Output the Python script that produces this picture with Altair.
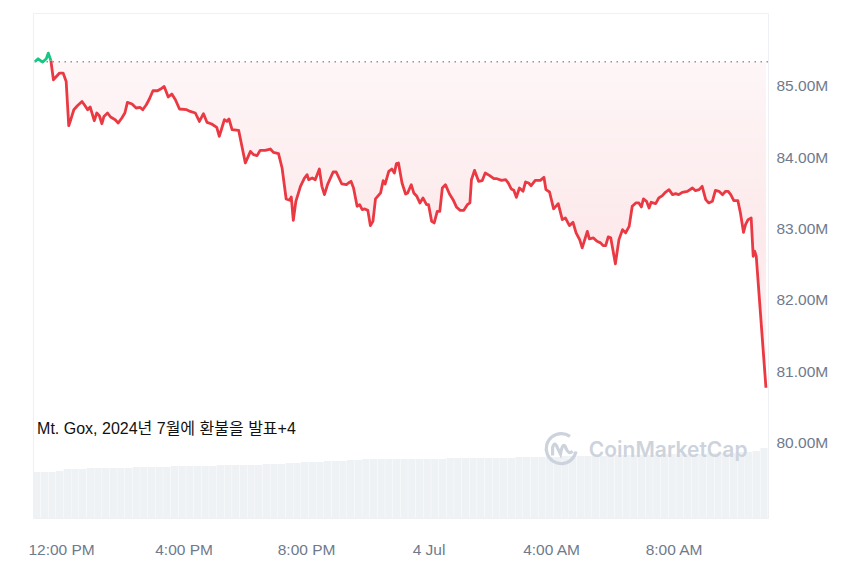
import altair as alt
import pandas as pd

# ---- price series (minutes after 3 Jul 11:05, price in millions USD) ----
minutes = [4, 10, 19, 26, 30, 35, 40, 45, 52, 59, 65, 70, 74, 80, 87, 96, 102, 107, 112, 120,
           125, 130, 135, 139, 146, 152, 161, 167, 174, 180, 185, 194, 202, 210, 215, 222, 228, 235, 244, 250,
           257, 265, 272, 279, 287, 301, 308, 318, 326, 334, 341, 350, 360, 365, 370, 375, 380, 384, 390, 403,
           416, 426, 432, 439, 445, 455, 465, 471, 481, 488, 496, 503, 506, 510, 515, 524, 532, 537, 540, 547,
           553, 561, 566, 571, 577, 588, 594, 605, 614, 618, 623, 628, 635, 640, 645, 650, 656, 661, 666, 671,
           681, 686, 690, 697, 703, 708, 712, 716, 723, 730, 734, 741, 746, 752, 758, 764, 771, 775, 781, 786,
           792, 797, 802, 808, 816, 823, 830, 837, 844, 851, 856, 859, 865, 873, 880, 886, 894, 903, 909, 918,
           926, 931, 937, 942, 947, 953, 960, 965, 971, 976, 984, 994, 1001, 1005, 1012, 1020, 1029, 1037, 1043, 1051,
           1058, 1064, 1071, 1076, 1086, 1090, 1098, 1105, 1112, 1117, 1122, 1127, 1132, 1141, 1148, 1155, 1161, 1168, 1174, 1181,
           1187, 1192, 1196, 1202, 1207, 1211, 1220, 1226, 1233, 1239, 1246, 1253, 1259, 1265, 1272, 1282, 1292, 1298, 1305, 1311,
           1318, 1324, 1331, 1337, 1344, 1351, 1357, 1362, 1367, 1373, 1381, 1386, 1392, 1396, 1401, 1407, 1411, 1414, 1417, 1436]
price = [85.340, 85.378, 85.332, 85.378, 85.458, 85.354, 85.084, 85.122, 85.178, 85.178, 85.060, 84.440, 84.524, 84.664, 84.720, 84.780, 84.720, 84.664, 84.702, 84.510,
         84.618, 84.580, 84.468, 84.570, 84.618, 84.562, 84.524, 84.478, 84.548, 84.618, 84.766, 84.744, 84.688, 84.696, 84.664, 84.734, 84.814, 84.930, 84.930, 84.954,
         84.990, 84.842, 84.884, 84.804, 84.674, 84.664, 84.640, 84.618, 84.500, 84.608, 84.486, 84.464, 84.416, 84.290, 84.408, 84.524, 84.500, 84.534, 84.384, 84.374,
         83.917, 84.080, 84.034, 84.020, 84.094, 84.094, 84.113, 84.066, 84.048, 83.847, 83.413, 83.394, 83.441, 83.113, 83.380, 83.590, 83.707, 83.754, 83.683, 83.707,
         83.683, 83.833, 83.590, 83.473, 83.613, 83.791, 83.791, 83.623, 83.613, 83.637, 83.660, 83.567, 83.310, 83.333, 83.263, 83.273, 83.253, 83.039, 83.099, 83.413,
         83.497, 83.669, 83.623, 83.800, 83.833, 83.777, 83.908, 83.917, 83.637, 83.483, 83.497, 83.613, 83.497, 83.450, 83.357, 83.427, 83.333, 83.333, 83.099, 83.077,
         83.240, 83.240, 83.567, 83.613, 83.483, 83.403, 83.296, 83.253, 83.253, 83.333, 83.357, 83.683, 83.814, 83.660, 83.669, 83.777, 83.744, 83.697, 83.697, 83.674,
         83.683, 83.637, 83.553, 83.534, 83.436, 83.567, 83.520, 83.651, 83.637, 83.599, 83.674, 83.674, 83.716, 83.543, 83.511, 83.273, 83.347, 83.123, 83.147, 83.039,
         83.085, 82.937, 82.843, 82.727, 82.959, 82.853, 82.867, 82.819, 82.797, 82.759, 82.759, 82.881, 82.867, 82.503, 82.843, 82.983, 82.937, 83.029, 83.310, 83.357,
         83.357, 83.301, 83.413, 83.380, 83.287, 83.366, 83.347, 83.427, 83.459, 83.506, 83.543, 83.473, 83.487, 83.473, 83.506, 83.520, 83.567, 83.529, 83.543, 83.590,
         83.403, 83.357, 83.380, 83.534, 83.520, 83.473, 83.520, 83.520, 83.473, 83.389, 83.389, 83.217, 82.945, 83.053, 83.123, 83.147, 82.609, 82.679, 82.609, 80.766]

# ---- volume bars (one per 15 min, arbitrary units) ----
volume = [46, 46, 46, 47,
          49, 49, 49, 50, 50, 50, 50, 50, 50, 51, 51, 51,
          51, 51, 52, 52, 52, 52, 52, 52, 53, 53, 53,
          53, 53, 53, 54, 54, 54, 55, 55,
          56, 56, 56, 57, 57, 57,
          58, 58, 59, 59, 59, 59, 59,
          59, 59, 59, 59, 59, 59, 60, 60, 60, 60, 60, 60, 60,
          60, 60, 61, 61, 61, 61, 61, 61, 62, 62, 62, 62,
          62, 62, 62, 63, 63, 63, 63, 63, 63, 64, 64, 64, 64,
          64, 64, 65, 65, 65, 65, 66, 66, 67, 70]

x_ticks = [(3, 12), (3, 16), (3, 20), (4, 0), (4, 4), (4, 8)]
y_ticks = [80, 81, 82, 83, 84, 85]
REF = 85.336
annotation = "Mt. Gox, 2024년 7월에 환불을 발표+4"

RED = "#ea3943"
GREEN = "#16c784"
FONT = "Liberation Sans"

t0 = pd.Timestamp("2024-07-03 11:05")
df = pd.DataFrame({"time": t0 + pd.to_timedelta(minutes, unit="m"), "price": price})
green_df = df.iloc[:6]
red_df = df.iloc[5:]
one = pd.DataFrame({"k": [0]})

vstart = t0 + pd.to_timedelta([15 * i for i in range(len(volume))], unit="m")
vdf = pd.DataFrame({"start": vstart, "end": vstart + pd.Timedelta(minutes=14.4), "volume": volume})

x_scale = alt.Scale(domain=[alt.DateTime(year=2024, month=7, date=3, hours=11, minutes=5),
                            alt.DateTime(year=2024, month=7, date=4, hours=11, minutes=5)])
x_axis = alt.Axis(
    values=[alt.DateTime(year=2024, month=7, date=d, hours=h) for d, h in x_ticks],
    labelExpr="hours(datum.value) == 0 ? timeFormat(datum.value, '%-d %b') : timeFormat(datum.value, '%-I:%M %p')",
    title=None, grid=False, ticks=False, domain=False, labelPadding=24,
    labelFontSize=15.5, labelColor="#6f7a8c", labelFont=FONT)
y_scale = alt.Scale(domain=[78.94, 86.02], nice=False, zero=False)
y_axis = alt.Axis(orient="right", values=y_ticks, labelExpr="format(datum.value, '.2f') + 'M'",
                  title=None, ticks=False, domain=False, labelPadding=8, labelFontSize=15.5,
                  labelColor="#6f7a8c", labelFont=FONT, gridColor="#eef0f3", gridWidth=1)

X = alt.X("time:T", scale=x_scale, axis=x_axis)
Y = alt.Y("price:Q", scale=y_scale, axis=y_axis)

vol = alt.Chart(vdf).mark_bar(color="#eff2f5").encode(
    x=alt.X("start:T", scale=x_scale, axis=x_axis), x2="end:T",
    y=alt.Y("volume:Q", scale=alt.Scale(domain=[0, 505]), axis=None),
    y2=alt.datum(0))

area = alt.Chart(red_df).mark_area(
    color=alt.Gradient(gradient="linear", x1=1, x2=1, y1=0, y2=1,
                       stops=[alt.GradientStop(color="#fef6f7", offset=0),
                              alt.GradientStop(color="#fce9eb", offset=0.55),
                              alt.GradientStop(color="#fef4f5", offset=1)])
).encode(x=X, y=Y, y2=alt.datum(REF))

ref_rule = alt.Chart(one).mark_rule(color="#8e97a6", strokeDash=[1.5, 4.5], strokeWidth=1.5).encode(
    y=alt.datum(REF))

logo = alt.Chart(one).mark_point(
    shape="M0.55,-0.76 A0.95,0.95 0 1,0 0.93,0.2 M-0.55,0.45 L-0.55,-0.05 Q-0.42,-0.5 -0.25,-0.05 L-0.05,0.35 Q0.12,-0.55 0.32,0.05 Q0.48,0.4 0.72,0.18",
    size=1000, filled=False, stroke="#cdd3dc", strokeWidth=3.2, opacity=1
).encode(x=alt.datum(alt.DateTime(year=2024, month=7, date=4, hours=4, minutes=20)),
         y=alt.datum(79.916))

wm_text = alt.Chart(one).mark_text(
    text="CoinMarketCap", align="left", baseline="middle", font="Inter", fontSize=21,
    fontWeight=600, color="#cdd3dc"
).encode(x=alt.datum(alt.DateTime(year=2024, month=7, date=4, hours=5, minutes=14)),
         y=alt.datum(79.878))

note = alt.Chart(one).mark_text(
    text=annotation, align="left", baseline="middle", font=FONT + ", Noto Sans CJK KR",
    fontSize=16, color="#111111"
).encode(x=alt.datum(alt.DateTime(year=2024, month=7, date=3, hours=11, minutes=13)),
         y=alt.datum(80.19))

red_line = alt.Chart(red_df).mark_line(color=RED, strokeWidth=2.8, strokeJoin="round").encode(x=X, y=Y)
green_line = alt.Chart(green_df).mark_line(color=GREEN, strokeWidth=2.8, strokeJoin="round").encode(x=X, y=Y)

price_layer = alt.layer(area, logo, wm_text, ref_rule, note, red_line, green_line)

chart = alt.layer(vol, price_layer).resolve_scale(y="independent").properties(
    width=735, height=505,
    padding={"left": 19, "top": 5, "right": 5, "bottom": 5},
    background="white",
).configure_view(stroke="#eef0f3", strokeWidth=1)

chart.save("out.html", embed_options={"renderer": "svg", "actions": False})
